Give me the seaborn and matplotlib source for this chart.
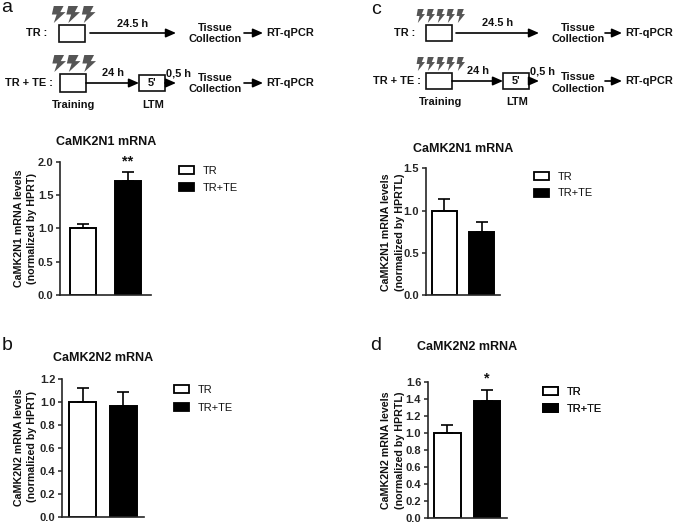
import matplotlib
matplotlib.use("Agg")
import matplotlib.pyplot as plt
from matplotlib.patches import Patch, Polygon, Rectangle
import seaborn as sns

W, H = 675, 524

groups = ["TR", "TR+TE"]

# values
a_means = [1.0, 1.71]
a_errs = [0.06, 0.14]
a_ticks = [0.0, 0.5, 1.0, 1.5, 2.0]

b_means = [1.0, 0.965]
b_errs = [0.125, 0.12]
b_ticks = [0.0, 0.2, 0.4, 0.6, 0.8, 1.0, 1.2]

c_means = [1.0, 0.74]
c_errs = [0.14, 0.13]
c_ticks = [0.0, 0.5, 1.0, 1.5]

d_means = [1.0, 1.38]
d_errs = [0.10, 0.13]
d_ticks = [0.0, 0.2, 0.4, 0.6, 0.8, 1.0, 1.2, 1.4, 1.6]

sns.set_theme(style="ticks")
plt.rcParams["font.family"] = ["Liberation Sans", "DejaVu Sans"]
plt.rcParams["text.color"] = "#111111"

fig = plt.figure(figsize=(W / 100, H / 100), dpi=100)

# overlay in pixel coords for the schematics and the loose labels
ov = fig.add_axes([0, 0, 1, 1], zorder=5)
ov.set_xlim(0, W)
ov.set_ylim(H, 0)
ov.axis("off")
ov.patch.set_alpha(0)


def bar_panel(means, errs, ticks, left, right, top, bottom, c0, c1, bw, ylabel, lab_x, lab_y,
              title, title_x, title_y, leg_x, leg_y, leg_gap, stars=None, star_y=0):
    ax = fig.add_axes([left / W, 1 - bottom / H, (right - left) / W, (bottom - top) / H])
    step = c1 - c0
    sns.barplot(x=groups, y=means, hue=groups, palette=["white", "black"], dodge=False,
                width=bw / step, edgecolor="black", linewidth=1.4, legend=False, ax=ax)
    ax.errorbar([0, 1], means, yerr=[[0, 0], errs], fmt="none", ecolor="black", elinewidth=1.2,
                capsize=6 * 0.72, capthick=1.2, zorder=1)
    ax.set_xlim((left - c0) / step, (right - c0) / step)
    ax.set_ylim(0, ticks[-1])
    ax.set_yticks(ticks)
    ax.set_yticklabels([f"{t:.1f}" for t in ticks], fontsize=8, fontweight="bold")
    ax.tick_params(axis="x", length=0, labelbottom=False)
    ax.tick_params(axis="y", length=3.2, width=1.1, pad=1.5)
    ax.patch.set_alpha(0)
    sns.despine(ax=ax)
    for s in ["left", "bottom"]:
        ax.spines[s].set_linewidth(1.2)
    ov.text(lab_x, lab_y, ylabel, rotation=90, ha="center", va="center", fontsize=7.7,
            fontweight="bold", linespacing=1.4)
    ov.text(title_x, title_y, title, ha="center", va="center", fontsize=9, fontweight="bold")
    if stars:
        ov.text(c1, star_y, stars, ha="center", va="center", fontsize=10.5, fontweight="bold")
    # legend, kept as an artist since the overlay holds four of them
    handles = [Patch(facecolor="white", edgecolor="black", linewidth=1.3),
               Patch(facecolor="black", edgecolor="black", linewidth=1.3)]
    leg = ov.legend(handles, groups, loc="upper left", bbox_to_anchor=(leg_x / W, 1 - leg_y / H),
                    bbox_transform=fig.transFigure, frameon=False, borderpad=0, borderaxespad=0,
                    fontsize=7.9, handlelength=1.4, handleheight=0.75, handletextpad=0.75,
                    labelspacing=leg_gap)
    ov.add_artist(leg)


def arrow(x0, x1, y):
    ov.annotate("", xy=(x1, y), xytext=(x0, y),
                arrowprops=dict(arrowstyle="-|>,head_length=0.5,head_width=0.22", color="black",
                                lw=1.2, shrinkA=0, shrinkB=0))


def box(x0, x1, y0, y1):
    ov.add_patch(Rectangle((x0, y0), x1 - x0, y1 - y0, fc="white", ec="#111111", lw=1.2))


def bolt(cx, y0, y1, w):
    h = y1 - y0
    shape = [(0.1, 0), (0.85, 0), (0.6, 0.36), (1.0, 0.36), (0.1, 1), (0.32, 0.5), (-0.05, 0.5)]
    pts = [(cx + (px - 0.5) * w, y0 + py * h) for px, py in shape]
    ov.add_patch(Polygon(pts, closed=True, fc="#555555", ec="none"))


def label(x, y, s, size=7.9):
    ov.text(x, y, s, ha="center", va="center", fontsize=size, fontweight="bold")


def schematic(lab1_x, y1, lab2_x, y2, box1, box2, lt_box, long_end, t1_x, t2_x, t3_x,
              arrow2_x, tissue_x, rt_x, foot_y, foot_x, lt_x, y_tissue1, y_tissue2, bolts_x, bolt_w,
              bolt_y1, bolt_y2, a_start, arrow_lab1, arrow_lab2):
    label(lab1_x, y1, "TR :")
    label(lab2_x, y2, "TR + TE :")
    box(*box1)
    box(*box2)
    box(*lt_box)
    arrow(a_start, long_end, y1)
    arrow(box2[1], lt_box[0], y2)
    arrow(lt_box[1], long_end, y2)
    label(t1_x, arrow_lab1, "24.5 h")
    label(t2_x, arrow_lab2, "24 h")
    label(t3_x, arrow_lab2, "0,5 h")
    label((lt_box[0] + lt_box[1]) / 2, y2, "5'")
    for y, yt in [(y1, y_tissue1), (y2, y_tissue2)]:
        label(tissue_x, yt, "Tissue")
        label(tissue_x, yt + 11.5, "Collection")
        arrow(arrow2_x[0], arrow2_x[1], y)
        label(rt_x, y, "RT-qPCR")
    label(foot_x, foot_y, "Training")
    label(lt_x, foot_y, "LTM")
    for bx in bolts_x:
        bolt(bx, bolt_y1[0], bolt_y1[1], bolt_w)
        bolt(bx + (0.5 if bolt_w > 8 else 0), bolt_y2[0], bolt_y2[1], bolt_w)


bar_panel(a_means, a_errs, a_ticks, 60, 151, 161.7, 295, 83, 128, 26,
          "CaMK2N1 mRNA levels\n(normalized by HPRT)", 25.5, 228,
          "CaMK2N1 mRNA", 106, 142, 179, 166, 0.62, "**", 161)
bar_panel(b_means, b_errs, b_ticks, 62, 144, 379, 517, 82.5, 123, 27,
          "CaMK2N2 mRNA levels\n(normalized by HPRT)", 25.5, 447,
          "CaMK2N2 mRNA", 103, 358, 174, 385, 0.7)
bar_panel(c_means, c_errs, c_ticks, 425.7, 500, 168.3, 295, 444.5, 481.5, 25,
          "CaMK2N1 mRNA levels\n(normalized by HPRTL)", 393, 232,
          "CaMK2N1 mRNA", 463, 149, 534, 172, 0.58)
bar_panel(d_means, d_errs, d_ticks, 427.7, 507, 382.3, 517.7, 447.3, 487, 26.5,
          "CaMK2N2 mRNA levels\n(normalized by HPRTL)", 393, 450,
          "CaMK2N2 mRNA", 467, 347, 543, 387, 0.62, "*", 378)

schematic(37, 33, 29, 83, (59, 85, 25, 42), (60, 86, 74, 92), (139, 165, 75, 91), 176,
          133, 113, 179, (244, 263), 215, 290, 105, 74, 153, 28, 78,
          [59, 73.5, 89], 13, (6, 23), (55, 72), 90, 24, 73)
schematic(405, 33, 397, 81, (426, 452, 25, 41), (426, 452, 73, 89), (503, 529, 73, 89), 539,
          498, 478, 542, (605, 622), 578, 649, 102, 441, 517, 28, 77,
          [421, 431, 441, 451, 461], 8, (9, 23), (57, 71), 456, 23, 71)

for s, x, y in [("a", 7, 8), ("c", 376, 9), ("b", 7, 345), ("d", 376, 345)]:
    ov.text(x, y, s, ha="center", va="center", fontsize=14)

fig.savefig("out.png", dpi=100)
